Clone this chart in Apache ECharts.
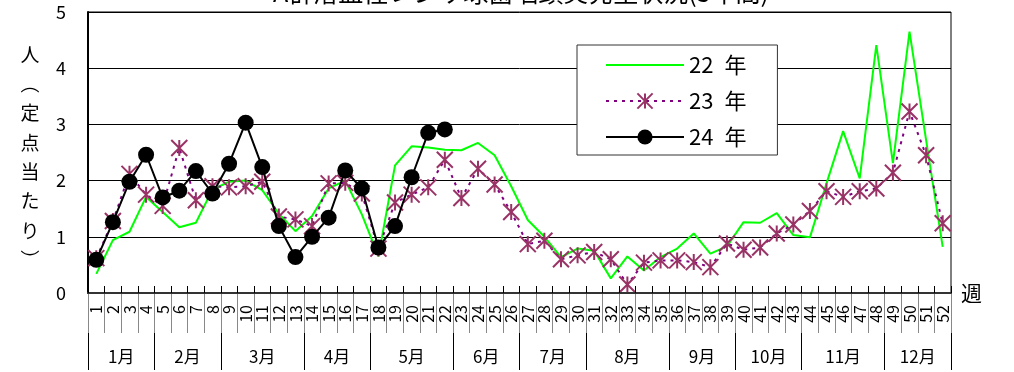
<!DOCTYPE html>
<html>
<head>
<meta charset="utf-8">
<script src="https://cdn.jsdelivr.net/npm/echarts@6/dist/echarts.min.js"></script>
<style>
  html, body { margin: 0; padding: 0; background: #fff; }
  #chart { width: 1014px; height: 372px; }
</style>
</head>
<body>
<div id="chart"></div>
<script>
// Week numbers along the x axis
const weeks = ['1','2','3','4','5','6','7','8','9','10','11','12','13','14','15','16','17','18','19','20',
  '21','22','23','24','25','26','27','28','29','30','31','32','33','34','35','36','37','38','39','40',
  '41','42','43','44','45','46','47','48','49','50','51','52'];

// Month captions and how many weeks each month spans
const months = ['1月','2月','3月','4月','5月','6月','7月','8月','9月','10月','11月','12月'];
const monthWeeks = [4, 4, 5, 4, 5, 4, 4, 5, 4, 4, 5, 4];

// Series names
const years = ['22\u2002年', '23\u2002年', '24\u2002年'];

// Cases per sentinel site, by week
const cases22 = [0.34, 0.94, 1.09, 1.71, 1.44, 1.17, 1.25, 1.84, 1.98, 2.00,
  1.83, 1.41, 1.10, 1.37, 1.86, 2.00, 1.40, 0.65, 2.27, 2.61,
  2.59, 2.55, 2.54, 2.67, 2.45, 1.90, 1.30, 1.00, 0.64, 0.79,
  0.75, 0.26, 0.65, 0.40, 0.64, 0.79, 1.06, 0.70, 0.83, 1.26,
  1.25, 1.42, 1.03, 0.99, 1.95, 2.88, 2.04, 4.41, 2.31, 4.65,
  2.72, 0.82];
const cases23 = [0.62, 1.28, 2.12, 1.75, 1.55, 2.58, 1.65, 1.90, 1.88, 1.90,
  1.98, 1.36, 1.31, 1.19, 1.95, 1.96, 1.77, 0.79, 1.61, 1.75,
  1.88, 2.37, 1.69, 2.21, 1.93, 1.44, 0.87, 0.93, 0.60, 0.67,
  0.73, 0.60, 0.15, 0.54, 0.58, 0.58, 0.55, 0.46, 0.88, 0.77,
  0.81, 1.06, 1.22, 1.46, 1.81, 1.71, 1.81, 1.86, 2.14, 3.23,
  2.45, 1.24];
const cases24 = [0.59, 1.26, 1.98, 2.46, 1.70, 1.82, 2.17, 1.77, 2.30, 3.03,
  2.24, 1.19, 0.64, 1.00, 1.34, 2.18, 1.86, 0.81, 1.19, 2.06,
  2.85, 2.91];

const FONT = '"Noto Sans CJK JP", "Noto Sans", sans-serif';

// Month edges and centres in week units (0..52) for the month row
const monthEdges = [0];
monthWeeks.forEach(n => monthEdges.push(monthEdges[monthEdges.length - 1] + n));
const monthMids = months.map((m, i) => (monthEdges[i] + monthEdges[i + 1]) / 2);

// Asterisk marker: an X crossed by a vertical stroke
const asterisk = 'path://M0 0L16 16M16 0L0 16M8 0L8 16';

const chart = echarts.init(document.getElementById('chart'), null, { renderer: 'canvas' });

const option = {
  animation: false,
  backgroundColor: '#fff',
  textStyle: { fontFamily: FONT, color: '#000' },
  grid: {
    left: 88, right: 63, top: 12, bottom: 79,
    show: true, borderColor: '#000', borderWidth: 1,
    outerBoundsMode: 'none'
  },
  graphic: [
    {
      type: 'text', x: 521, y: 5, silent: true,
      style: {
        text: 'A群溶血性レンサ球菌咽頭炎発生状況(3年間)',
        fontFamily: FONT, fontSize: 25, fill: '#000',
        align: 'center', verticalAlign: 'bottom'
      }
    },
    {
      type: 'text', x: 30, y: 40, silent: true,
      style: {
        text: '人\n︵\n定\n点\n当\nた\nり\n︶',
        fontFamily: FONT, fontSize: 19, lineHeight: 29.3, fill: '#000',
        align: 'center', verticalAlign: 'top'
      }
    }
  ],
  legend: {
    orient: 'vertical',
    left: 577, top: 45,
    itemWidth: 78, itemHeight: 19, itemGap: 14,
    padding: [9, 31, 7, 28],
    backgroundColor: '#fff', borderColor: '#333', borderWidth: 1, borderRadius: 0,
    textStyle: { fontFamily: FONT, fontSize: 22, color: '#000' },
    data: years
  },
  xAxis: [
    {
      type: 'category', data: weeks, boundaryGap: true, position: 'bottom', gridIndex: 0,
      axisLine: { show: true, lineStyle: { color: '#333', width: 2 } },
      axisTick: { show: true, inside: true, length: 7, interval: 0, lineStyle: { color: '#000', width: 1 } },
      axisLabel: { interval: 0, rotate: 90, fontFamily: FONT, fontSize: 16, color: '#000', margin: 12 },
      splitLine: { show: false },
      name: '週', nameLocation: 'end', nameGap: 10,
      nameTextStyle: { fontFamily: FONT, fontSize: 21, color: '#000', padding: [8, 0, 0, 0] },
      z: 5
    },
    {
      type: 'category', data: weeks, boundaryGap: true, position: 'bottom', gridIndex: 0,
      axisLine: { show: false },
      axisTick: { show: true, length: 40, interval: 0, lineStyle: { color: '#888', width: 1 } },
      axisLabel: { show: false },
      splitLine: { show: false }
    },
    {
      type: 'value', min: 0, max: 52, position: 'bottom', offset: 40, gridIndex: 0,
      axisLine: { show: false },
      splitLine: { show: false },
      axisTick: { show: true, customValues: monthEdges, length: 37, lineStyle: { color: '#000', width: 1 } },
      axisLabel: {
        customValues: monthMids,
        formatter: v => months[monthMids.indexOf(v)],
        fontFamily: FONT, fontSize: 17, color: '#000', margin: 15
      }
    }
  ],
  yAxis: {
    type: 'value', min: 0, max: 5, interval: 1,
    axisLine: { show: true, lineStyle: { color: '#000', width: 2 } },
    axisTick: { show: false },
    axisLabel: { fontFamily: FONT, fontSize: 18, color: '#000', margin: 22 },
    splitLine: { show: true, lineStyle: { color: '#000', width: 1 } }
  },
  series: [
    {
      name: years[0], type: 'line', xAxisIndex: 0, data: cases22,
      symbol: 'circle', showSymbol: false,
      lineStyle: { color: '#00ff00', width: 2 },
      itemStyle: { color: 'rgba(0,0,0,0)', borderWidth: 0 },
      z: 2
    },
    {
      name: years[1], type: 'line', xAxisIndex: 0, data: cases23,
      symbol: asterisk, symbolSize: 16,
      lineStyle: { color: '#800080', width: 2, type: [3, 5] },
      itemStyle: { color: '#993366', borderColor: '#993366', borderWidth: 2 },
      z: 3
    },
    {
      name: years[2], type: 'line', xAxisIndex: 0, data: cases24,
      symbol: 'circle', symbolSize: 16,
      lineStyle: { color: '#000', width: 2 },
      itemStyle: { color: '#000', borderWidth: 0 },
      z: 4
    }
  ]
};

chart.setOption(option);
</script>
</body>
</html>
